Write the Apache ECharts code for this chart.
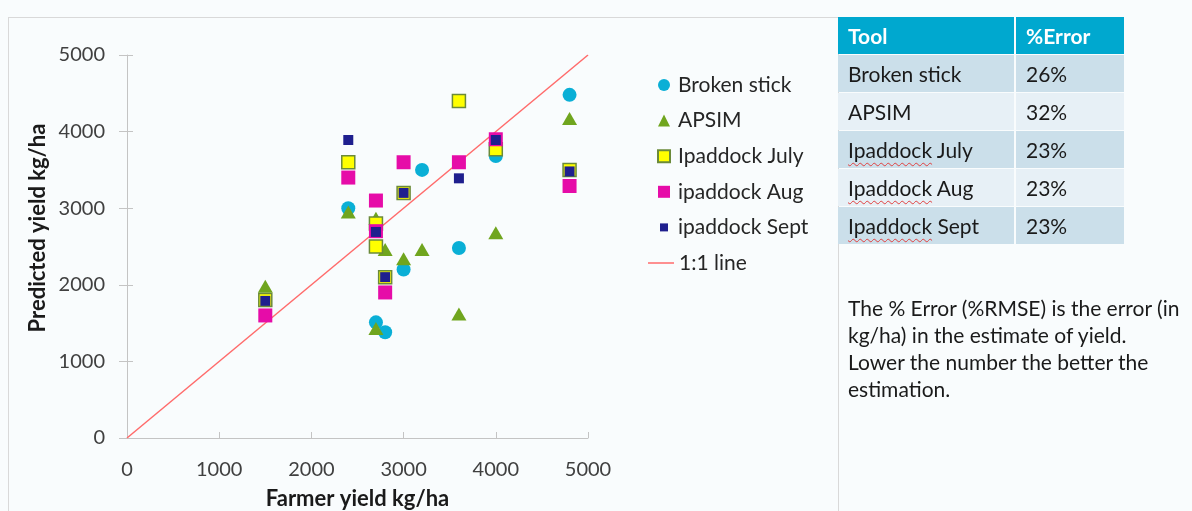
<!DOCTYPE html>
<html>
<head>
<meta charset="utf-8">
<script src="https://cdn.jsdelivr.net/npm/echarts@6/dist/echarts.min.js"></script>
<style>
body { margin: 0; background: #f9fcfd; font-family: Lato, sans-serif; }
#frame { position: absolute; left: 8px; top: 17px; width: 829px; height: 520px; border: 1px solid #d9d9d9; }
#chart { position: absolute; left: 0; top: 0; width: 1192px; height: 511px; }
.errTable { position: absolute; left: 836px; top: 16px; border-collapse: separate; border-spacing: 2px 1px; font-size: 21px; color: #1a1a1a; }
.errTable td, .errTable th { height: 37px; padding: 0 0 0 10px; text-align: left; box-sizing: border-box; }
.errTable th { background: #00a8cf; color: #fff; font-weight: bold; }
.errTable tr.dark td { background: #cbdfea; }
.errTable tr.light td { background: #e7f0f6; }
.sp { text-decoration: underline wavy #e04040; text-decoration-thickness: 1px; text-underline-offset: 4px; }
.note { position: absolute; left: 848px; top: 294px; font-size: 21px; line-height: 27px; color: #1a1a1a; white-space: nowrap; }
</style>
</head>
<body>
<div id="frame"></div>
<div id="chart"></div>
<table class="errTable">
  <tr><th style="width:176px">Tool</th><th style="width:108px">%Error</th></tr>
  <tr class="dark"><td>Broken stick</td><td>26%</td></tr>
  <tr class="light"><td>APSIM</td><td>32%</td></tr>
  <tr class="dark"><td><span class="sp">Ipaddock</span> July</td><td>23%</td></tr>
  <tr class="light"><td><span class="sp">Ipaddock</span> Aug</td><td>23%</td></tr>
  <tr class="dark"><td><span class="sp">Ipaddock</span> Sept</td><td>23%</td></tr>
</table>
<div class="note">The % Error (%RMSE) is the error (in<br>kg/ha) in the estimate of yield.<br>Lower the number the better the<br>estimation.</div>
<script>
// farmer yield vs predicted yield, kg/ha
const brokenStick = [[2400, 3000], [2700, 1510], [2800, 1380], [3000, 2200], [3200, 3500], [3600, 2480], [4000, 3680], [4800, 4480]];
const apsim = [[1500, 1980], [2400, 2950], [2700, 2870], [2700, 1430], [2800, 2460], [3000, 2340], [3200, 2460], [3600, 1620], [4000, 2680], [4800, 4170]];
const ipaddockJuly = [[1500, 1800], [2400, 3600], [2700, 2800], [2700, 2500], [2800, 2100], [3000, 3200], [3600, 4400], [4000, 3770], [4800, 3500]];
const ipaddockAug = [[1500, 1600], [2400, 3400], [2700, 3100], [2700, 2700], [2800, 1900], [3000, 3600], [3600, 3600], [4000, 3900], [4800, 3290]];
const ipaddockSept = [[1500, 1790], [2400, 3890], [2700, 2690], [2800, 2100], [3000, 3200], [3600, 3390], [4000, 3890], [4800, 3480]];
const oneToOne = [[0, 0], [5000, 5000]];

const axisGrey = '#c4c4c4';
const labelStyle = { color: '#404040', fontSize: 20, fontFamily: 'Lato', formatter: (v) => String(v) };

const myChart = echarts.init(document.getElementById('chart'));

const option = {
  animation: false,
  textStyle: { fontFamily: 'Lato' },
  grid: { left: 127, top: 55, width: 461, height: 383, outerBoundsMode: 'none', containLabel: false },
  xAxis: {
    type: 'value',
    min: 0,
    max: 5000,
    interval: 1000,
    name: 'Farmer yield kg/ha',
    nameLocation: 'middle',
    nameGap: 50,
    nameTextStyle: { color: '#1a1a1a', fontSize: 22, fontWeight: 'bold' },
    splitLine: { show: false },
    axisLine: { lineStyle: { color: axisGrey } },
    axisTick: { inside: true, length: 6, lineStyle: { color: axisGrey } },
    axisLabel: { ...labelStyle, margin: 22 },
  },
  yAxis: [
    {
      type: 'value',
      min: 0,
      max: 5000,
      interval: 1000,
      splitLine: { show: false },
      axisLine: { show: true, lineStyle: { color: axisGrey } },
      axisTick: { show: true, length: 8, lineStyle: { color: axisGrey } },
      axisLabel: { ...labelStyle, margin: 22 },
    },
    {
      // inner half of the crossing ticks
      type: 'value',
      position: 'left',
      min: 0,
      max: 5000,
      interval: 1000,
      splitLine: { show: false },
      axisLine: { show: false },
      axisTick: { show: true, inside: true, length: 6, lineStyle: { color: axisGrey } },
      axisLabel: { show: false },
    },
  ],
  legend: [
    {
      orient: 'vertical',
      left: 657,
      top: 73,
      padding: 0,
      itemWidth: 12,
      itemHeight: 12,
      itemGap: 11.6,
      textStyle: { color: '#262626', fontSize: 21, lineHeight: 24, padding: [0, 0, 0, 3] },
      data: [
        { name: 'Broken stick', icon: 'circle' },
        { name: 'APSIM', icon: 'triangle' },
        { name: 'Ipaddock July', icon: 'rect' },
        { name: 'ipaddock Aug', icon: 'rect' },
        { name: 'ipaddock Sept', icon: 'path://M0,0M12,12M2,2h8v8h-8z' },
      ],
    },
    {
      left: 648,
      top: 251,
      padding: 0,
      itemWidth: 26,
      itemHeight: 12,
      textStyle: { color: '#262626', fontSize: 21, lineHeight: 24 },
      data: [{ name: '1:1 line', icon: 'path://M0,0M26,12M0,5.25h26v1.5h-26z' }],
    },
  ],
  graphic: [
    {
      type: 'text',
      x: 38,
      y: 228,
      rotation: Math.PI / 2,
      style: {
        text: 'Predicted yield kg/ha',
        fill: '#1a1a1a',
        font: 'bold 22px Lato',
        align: 'center',
        verticalAlign: 'middle',
      },
    },
  ],
  series: [
    {
      name: '1:1 line',
      type: 'line',
      data: oneToOne,
      symbol: 'none',
      silent: true,
      z: 1,
      lineStyle: { color: '#ff6b6b', width: 1.5 },
      itemStyle: { color: '#ff6b6b' },
    },
    {
      name: 'Broken stick',
      type: 'scatter',
      data: brokenStick,
      symbol: 'circle',
      symbolSize: 14,
      itemStyle: { color: '#0aafd6', opacity: 1 },
    },
    {
      name: 'APSIM',
      type: 'scatter',
      data: apsim,
      symbol: 'triangle',
      symbolSize: [15, 13],
      itemStyle: { color: '#70a51e', opacity: 1 },
    },
    {
      name: 'Ipaddock July',
      type: 'scatter',
      data: ipaddockJuly,
      symbol: 'rect',
      symbolSize: 13,
      itemStyle: { color: '#ffff00', borderColor: '#6b8a3a', borderWidth: 1.5, opacity: 1 },
    },
    {
      name: 'ipaddock Aug',
      type: 'scatter',
      data: ipaddockAug,
      symbol: 'rect',
      symbolSize: 14,
      itemStyle: { color: '#e60ca8', opacity: 1 },
    },
    {
      name: 'ipaddock Sept',
      type: 'scatter',
      data: ipaddockSept,
      symbol: 'rect',
      symbolSize: 10,
      itemStyle: { color: '#1f1f8e', opacity: 1 },
    },
  ],
};

myChart.setOption(option);
</script>
</body>
</html>
